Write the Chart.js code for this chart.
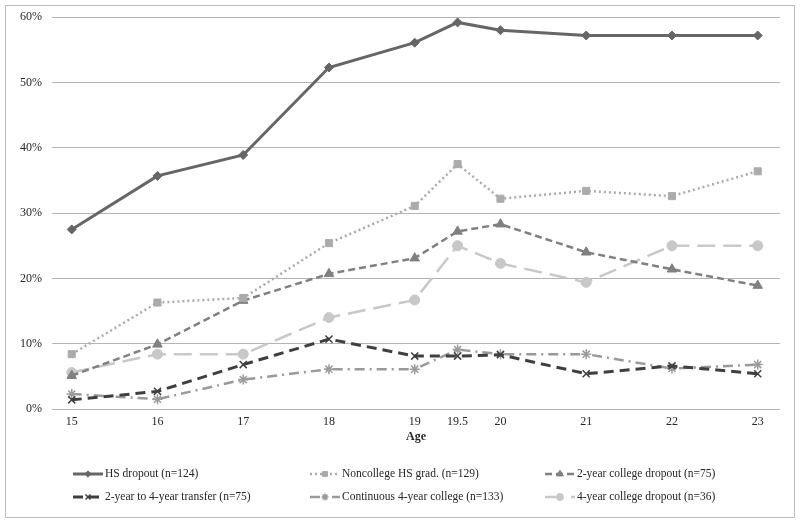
<!DOCTYPE html>
<html><head><meta charset="utf-8">
<script src="https://cdn.jsdelivr.net/npm/chart.js@4"></script>
<style>html,body{margin:0;padding:0;background:#fff}#wrap{width:800px;height:524px;position:relative}</style>
</head><body><div id="wrap"><canvas id="c" width="800" height="524"></canvas></div>
<script>
const ages = [15, 16, 17, 18, 19, 19.5, 20, 21, 22, 23];
const yTicks = [0, 10, 20, 30, 40, 50, 60];
const seriesNames = [
  'HS dropout (n=124)',
  'Noncollege HS grad. (n=129)',
  '2-year college dropout (n=75)',
  '2-year to 4-year transfer (n=75)',
  'Continuous 4-year college (n=133)',
  '4-year college dropout (n=36)'
];
const hsDropout      = [27.5, 35.7, 38.9, 52.3, 56.1, 59.2, 58.0, 57.2, 57.2, 57.2];
const noncollegeGrad = [8.4, 16.3, 17.0, 25.4, 31.1, 37.5, 32.2, 33.4, 32.6, 36.4];
const twoYearDropout = [5.1, 9.9, 16.6, 20.7, 23.1, 27.2, 28.3, 24.0, 21.4, 18.9];
const twoToFourTrans = [1.4, 2.7, 6.8, 10.7, 8.1, 8.1, 8.3, 5.4, 6.6, 5.4];
const continuous4yr  = [2.3, 1.5, 4.5, 6.1, 6.1, 9.1, 8.4, 8.4, 6.2, 6.8];
const fourYearDropout= [5.6, 8.4, 8.4, 14.0, 16.7, 25.0, 22.3, 19.4, 25.0, 25.0];

const seriesValues = [hsDropout, noncollegeGrad, twoYearDropout, twoToFourTrans, continuous4yr, fourYearDropout];
const styles = [
  {color:'#666666', dash:[], width:3, point:'rectRot', r:4.5},
  {color:'#ababab', dash:[2,3], width:2.5, point:'rect', r:5},
  {color:'#808080', dash:[7,4], width:2.5, point:'triangle', r:5.5},
  {color:'#3f3f3f', dash:[10,6], width:3, point:'crossRot', r:5},
  {color:'#9a9a9a', dash:[10,5,2,5], width:2.5, point:'star', r:5},
  {color:'#c8c8c8', dash:[18,8], width:2.5, point:'circle', r:5}
];

const datasets = seriesValues.map((vals, i) => ({
  label: seriesNames[i],
  data: ages.map((a, j) => ({x: a, y: vals[j]})),
  borderColor: styles[i].color,
  backgroundColor: styles[i].color,
  borderWidth: styles[i].width,
  borderDash: styles[i].dash,
  pointStyle: styles[i].point,
  pointRadius: styles[i].r,
  pointBorderWidth: (styles[i].point === 'crossRot' || styles[i].point === 'star') ? 1.5 : 1,
  pointBorderColor: styles[i].color,
  pointBackgroundColor: styles[i].color,
  tension: 0,
  fill: false
}));

const FONT = '"Liberation Serif", "Times New Roman", serif';

const frame = {
  id: 'frame',
  beforeDraw(chart) {
    const ctx = chart.ctx;
    ctx.save();
    ctx.fillStyle = '#fff';
    ctx.fillRect(0, 0, 800, 524);
    ctx.strokeStyle = '#bcbcbc';
    ctx.lineWidth = 1;
    ctx.strokeRect(5.5, 5.5, 789, 512);
    ctx.restore();
  },
  afterDraw(chart) {
    const ctx = chart.ctx;
    const colsX = [73, 310, 545];
    const rowsY = [474, 497];
    ctx.save();
    chart.data.datasets.forEach((ds, i) => {
      const x0 = colsX[i % 3], y = rowsY[Math.floor(i / 3)];
      ctx.save();
      ctx.strokeStyle = ds.borderColor;
      ctx.lineWidth = ds.borderWidth;
      ctx.setLineDash(ds.borderDash);
      ctx.beginPath();
      ctx.moveTo(x0, y);
      ctx.lineTo(x0 + 30, y);
      ctx.stroke();
      ctx.setLineDash([]);
      ctx.fillStyle = ds.pointBackgroundColor;
      ctx.strokeStyle = ds.pointBorderColor;
      ctx.lineWidth = ds.pointBorderWidth;
      Chart.helpers.drawPoint(ctx, {pointStyle: ds.pointStyle, radius: ds.pointRadius * 0.7, rotation: 0, borderWidth: ds.pointBorderWidth}, x0 + 15, y);
      ctx.restore();
      ctx.fillStyle = '#262626';
      ctx.font = '11.5px ' + FONT;
      ctx.textBaseline = 'middle';
      ctx.textAlign = 'left';
      ctx.fillText(ds.label, x0 + 32, y);
    });
    ctx.restore();
  }
};

new Chart(document.getElementById('c'), {
  type: 'line',
  data: {datasets},
  plugins: [frame],
  options: {
    responsive: false,
    animation: false,
    layout: {padding: {left: 0, right: 20, top: 17, bottom: 0}},
    plugins: {legend: {display: false}, tooltip: {enabled: false}},
    scales: {
      x: {
        type: 'linear',
        min: 14.77,
        max: 23.26,
        afterBuildTicks: (s) => { s.ticks = ages.map(v => ({value: v})); },
        afterFit: (s) => { s.height = 115; },
        grid: {display: false, drawTicks: false},
        border: {display: false},
        ticks: {padding: 6, color: '#262626', font: {family: FONT, size: 12}, callback: (v) => String(v), autoSkip: false, maxRotation: 0},
        title: {display: true, text: 'Age', color: '#262626', font: {family: FONT, size: 12, weight: 'bold'}, padding: {top: 0, bottom: 80}}
      },
      y: {
        min: 0,
        max: 60,
        afterBuildTicks: (s) => { s.ticks = yTicks.map(v => ({value: v})); },
        afterFit: (s) => { s.width = 52; },
        grid: {color: '#b4b4b4', lineWidth: 1, drawTicks: false},
        border: {display: false},
        ticks: {padding: 10, color: '#262626', font: {family: FONT, size: 12}, callback: (v) => v + '%'}
      }
    }
  }
});
</script>
</body></html>
